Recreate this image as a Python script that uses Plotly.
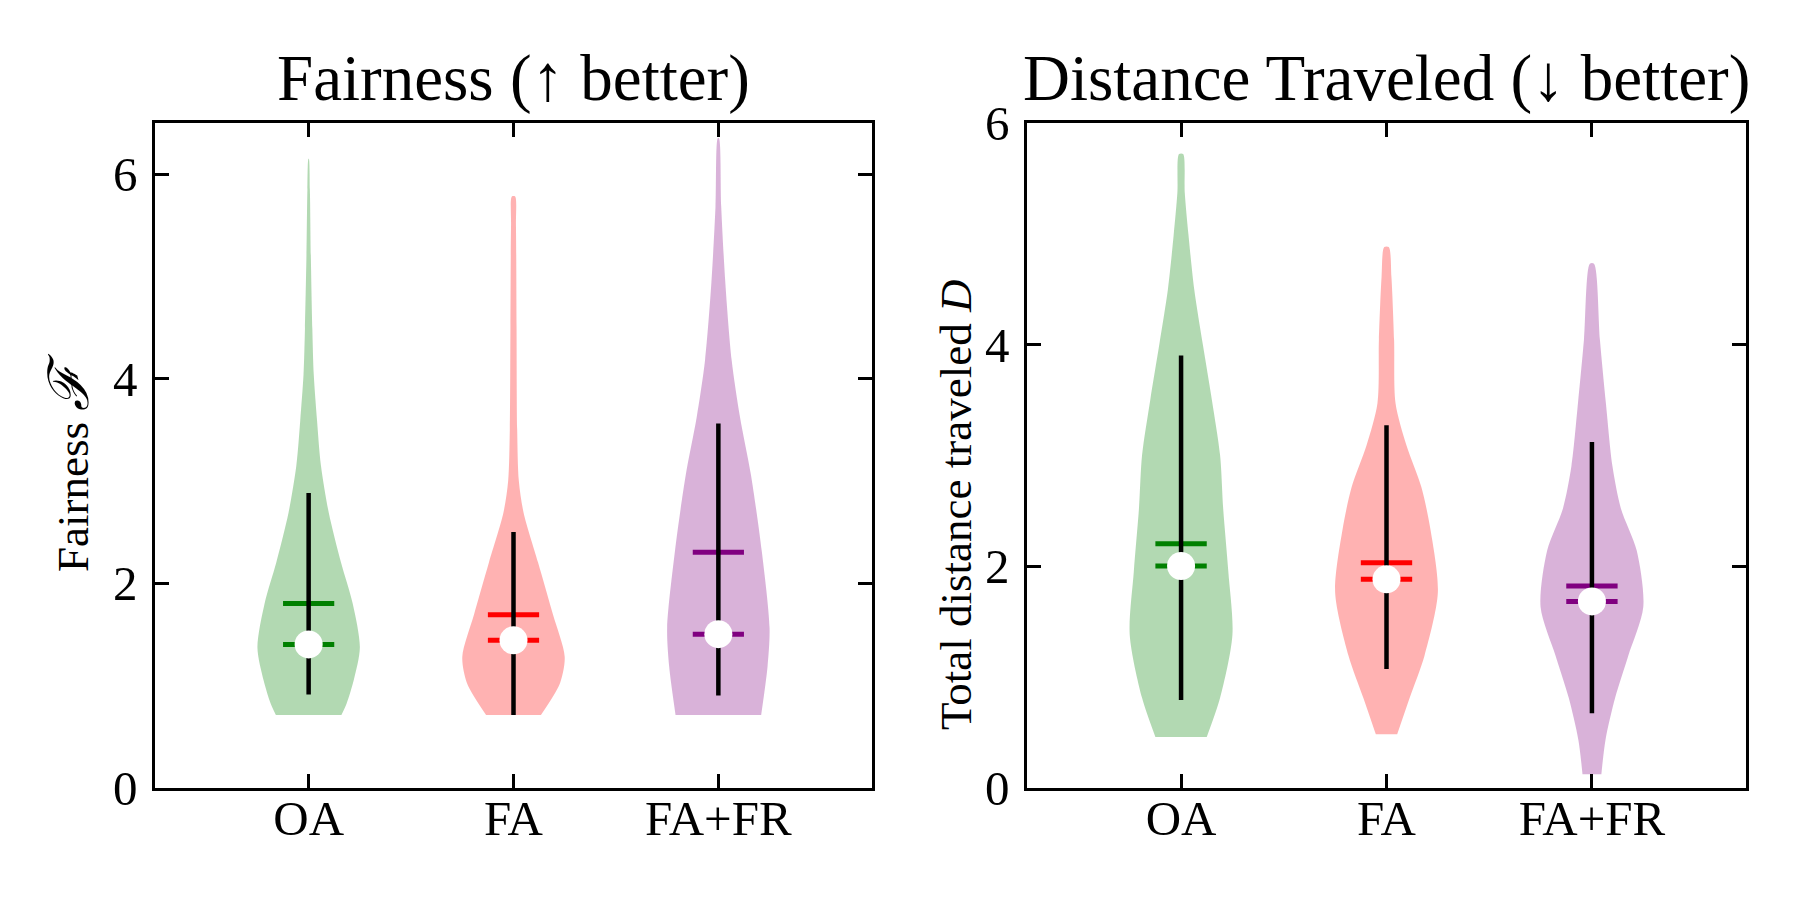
import plotly.graph_objects as go

# ---------------- data ----------------
categories = ["OA", "FA", "FA+FR"]
line_colors = ["#008000", "#ff0000", "#800080"]
fill_colors = ["rgba(0,128,0,0.3)", "rgba(255,0,0,0.3)", "rgba(128,0,128,0.3)"]

# Fairness panel
fair_means = [1.80, 1.69, 2.30]
fair_medians = [1.40, 1.44, 1.50]
fair_whisk_lo = [0.91, 0.71, 0.90]
fair_whisk_hi = [2.88, 2.50, 3.56]
fair_oa_y = [0.71, 0.82, 1.05, 1.37, 1.80, 2.20, 2.69, 3.15, 3.59, 4.04, 4.49, 5.17, 5.85, 6.15]
fair_oa_w = [0.16, 0.185, 0.22, 0.25, 0.215, 0.158, 0.098, 0.06, 0.041, 0.025, 0.018, 0.011, 0.006, 0.001]
fair_fa_y = [0.71, 1.02, 1.28, 1.69, 2.20, 2.69, 3.00, 3.50, 4.50, 5.50, 5.78]
fair_fa_w = [0.134, 0.227, 0.25, 0.193, 0.12, 0.049, 0.026, 0.018, 0.015, 0.012, 0.008]
fair_fafr_y = [0.71, 1.18, 1.56, 2.31, 3.06, 3.62, 4.18, 4.94, 5.68, 6.35]
fair_fafr_w = [0.209, 0.24, 0.25, 0.212, 0.159, 0.106, 0.065, 0.034, 0.014, 0.003]

# Distance panel
dist_means = [2.20, 2.03, 1.82]
dist_medians = [2.00, 1.88, 1.68]
dist_whisk_lo = [0.79, 1.07, 0.67]
dist_whisk_hi = [3.90, 3.27, 3.12]
dist_oa_y = [0.457, 0.81, 1.38, 1.95, 2.52, 3.00, 3.50, 4.00, 4.50, 4.99, 5.37, 5.72]
dist_oa_w = [0.125, 0.19, 0.25, 0.23, 0.205, 0.19, 0.15, 0.106, 0.064, 0.036, 0.018, 0.01]
dist_fa_y = [0.48, 0.81, 1.19, 1.76, 2.33, 2.71, 3.09, 3.47, 4.04, 4.61, 4.88]
dist_fa_w = [0.052, 0.113, 0.185, 0.25, 0.214, 0.17, 0.097, 0.044, 0.037, 0.024, 0.011]
dist_fafr_y = [0.12, 0.43, 0.81, 1.19, 1.63, 2.14, 2.52, 2.90, 3.47, 4.04, 4.73]
dist_fafr_w = [0.046, 0.066, 0.113, 0.177, 0.25, 0.218, 0.141, 0.10, 0.068, 0.039, 0.01]

y_ticks = [0, 2, 4, 6]

# ---------------- figure ----------------
FONT = "Liberation Serif, DejaVu Serif, serif"
BAR_HALF = 0.125

fig = go.Figure()


def add_panel(xa, ya, profiles, means, medians, lo, hi):
    for i, (ys, ws) in enumerate(profiles):
        c = i + 1
        xs = [c + w for w in ws] + [c - w for w in reversed(ws)]
        yy = list(ys) + list(reversed(ys))
        fig.add_trace(go.Scatter(
            x=xs, y=yy, xaxis=xa, yaxis=ya, mode="lines", fill="toself",
            fillcolor=fill_colors[i], line=dict(width=0, shape="spline", smoothing=0.8),
            hoverinfo="skip", showlegend=False))
    for i in range(len(categories)):
        c = i + 1
        for val in (means[i], medians[i]):
            fig.add_trace(go.Scatter(
                x=[c - BAR_HALF, c + BAR_HALF], y=[val, val], xaxis=xa, yaxis=ya,
                mode="lines", line=dict(color=line_colors[i], width=5),
                hoverinfo="skip", showlegend=False))
    for i in range(len(categories)):
        c = i + 1
        fig.add_trace(go.Scatter(
            x=[c, c], y=[lo[i], hi[i]], xaxis=xa, yaxis=ya, mode="lines",
            line=dict(color="black", width=4.5), hoverinfo="skip", showlegend=False))
    fig.add_trace(go.Scatter(
        x=[i + 1 for i in range(len(categories))], y=medians, xaxis=xa, yaxis=ya,
        mode="markers", marker=dict(color="white", size=28, line=dict(width=0)),
        hoverinfo="skip", showlegend=False))


add_panel("x", "y",
          [(fair_oa_y, fair_oa_w), (fair_fa_y, fair_fa_w), (fair_fafr_y, fair_fafr_w)],
          fair_means, fair_medians, fair_whisk_lo, fair_whisk_hi)
add_panel("x2", "y2",
          [(dist_oa_y, dist_oa_w), (dist_fa_y, dist_fa_w), (dist_fafr_y, dist_fafr_w)],
          dist_means, dist_medians, dist_whisk_lo, dist_whisk_hi)

# page body has an 8px margin: lay out in screen pixels, then shift
OFF = 8
W, H = 1800 - OFF, 900 - OFF


def px(xs):
    return (xs - OFF) / W


def py(ys):
    return 1 - (ys - OFF) / H


xd1 = [px(155), px(872)]
xd2 = [px(1027), px(1746)]
yd = [py(787.5), py(123)]

axis_common = dict(showline=True, linecolor="black", linewidth=2.5, mirror="allticks",
                   ticks="inside", ticklen=14, tickwidth=2.5, tickcolor="black",
                   showgrid=False, zeroline=False, automargin=False,
                   tickfont=dict(family=FONT, size=49, color="black"))

fig.update_layout(
    width=W, height=H, plot_bgcolor="white", paper_bgcolor="white",
    margin=dict(l=0, r=0, t=0, b=0, pad=0, autoexpand=False), showlegend=False,
    xaxis=dict(domain=xd1, range=[0.25, 3.75], tickvals=[1, 2, 3], ticktext=categories,
               anchor="y", ticklabelstandoff=-14, **axis_common),
    yaxis=dict(domain=yd, range=[0, 6.5], tickvals=y_ticks, anchor="x",
               ticklabelstandoff=5, **axis_common),
    xaxis2=dict(domain=xd2, range=[0.25, 3.75], tickvals=[1, 2, 3], ticktext=categories,
                anchor="y2", ticklabelstandoff=-14, **axis_common),
    yaxis2=dict(domain=yd, range=[0, 6], tickvals=y_ticks, anchor="x2",
                ticklabelstandoff=5, **axis_common),
)

title_font = dict(family=FONT, size=65, color="black")
label_font = dict(family=FONT, size=45, color="black")
fig.add_annotation(text="Fairness (↑ better)", xref="paper", yref="paper",
                   x=(xd1[0] + xd1[1]) / 2, y=py(78), showarrow=False,
                   xanchor="center", yanchor="middle", font=title_font)
fig.add_annotation(text="Distance Traveled (↓ better)", xref="paper", yref="paper",
                   x=(xd2[0] + xd2[1]) / 2, y=py(78), showarrow=False,
                   xanchor="center", yanchor="middle", font=title_font)
fig.add_annotation(text="Fairness <span style=\"font-size:56px\"><i>ℱ</i></span>",
                   xref="paper", yref="paper",
                   x=px(69), y=py(462), showarrow=False, textangle=-90,
                   xanchor="center", yanchor="middle", font=label_font)
fig.add_annotation(text="Total distance traveled <i>D</i>", xref="paper", yref="paper",
                   x=px(956), y=py(505), showarrow=False, textangle=-90,
                   xanchor="center", yanchor="middle", font=label_font)

fig.write_html("out.html")
